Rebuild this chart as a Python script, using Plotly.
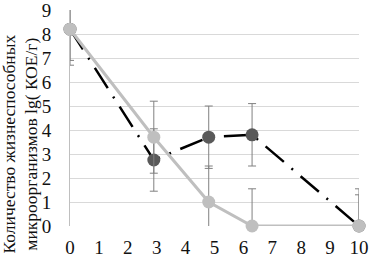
import plotly.graph_objects as go

x_days = [0, 2.9, 4.8, 6.3, 10]
series_dark = [8.2, 2.75, 3.7, 3.8, 0]
series_light = [8.2, 3.7, 1.0, 0, 0]
err_dark = [1.3, 1.3, 1.3, 1.3, 1.3]
err_light = [1.5, 1.5, 1.5, 1.55, 1.55]
x_ticks = list(range(0, 11))
y_ticks = list(range(0, 10))
y_title = "Количество жизнеспособных<br>микроорганизмов lg( КОЕ/г)"

FONT = "Liberation Serif, Times New Roman, serif"

fig = go.Figure()
fig.add_trace(go.Scatter(
    x=x_days, y=series_dark, mode="lines+markers",
    line=dict(color="black", width=2.5, dash="24px,10px,2px,10px"),
    marker=dict(color="#595959", size=13),
    error_y=dict(type="data", array=err_dark, color="#808080", thickness=1, width=4),
    cliponaxis=False, showlegend=False,
))
fig.add_trace(go.Scatter(
    x=x_days, y=series_light, mode="lines+markers",
    line=dict(color="#bfbfbf", width=3),
    marker=dict(color="#bfbfbf", size=13),
    error_y=dict(type="data", array=err_light, color="#808080", thickness=1, width=4),
    cliponaxis=False, showlegend=False,
))

fig.add_annotation(
    text=y_title, xref="paper", yref="paper", x=-0.171, y=0.38,
    xanchor="center", yanchor="middle", textangle=-90, showarrow=False,
    font=dict(family=FONT, size=17.5, color="#111"),
)

fig.update_layout(
    width=369, height=258,
    margin=dict(l=70, r=10, t=10, b=32),
    paper_bgcolor="white", plot_bgcolor="white",
    font=dict(family=FONT, size=18, color="#111"),
    xaxis=dict(range=[0, 10], tickvals=x_ticks, showgrid=False, zeroline=False,
               showline=False, ticks="outside", ticklen=4, tickcolor="rgba(0,0,0,0)",
               tickfont=dict(family=FONT, size=19), automargin=False,
               ticklabeloverflow="allow"),
    yaxis=dict(range=[0, 9], tickvals=y_ticks, showgrid=True, gridcolor="#d9d9d9",
               gridwidth=1, zeroline=False, showline=True, linecolor="#bfbfbf",
               ticks="outside", ticklen=14, tickcolor="rgba(0,0,0,0)",
               tickfont=dict(family=FONT, size=19), automargin=False,
               ticklabeloverflow="allow"),
)

fig.write_html("out.html", post_script="document.body.style.margin='0';",
               config={"displayModeBar": False})
